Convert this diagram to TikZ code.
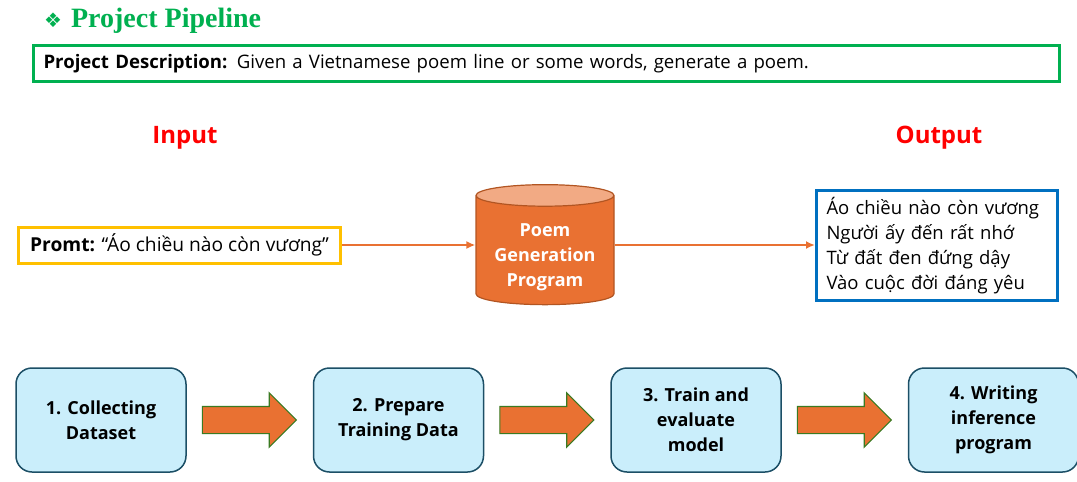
\documentclass[tikz,border=0pt]{standalone}
\usepackage{fontspec}
\setmainfont{Open Sans}
\newfontfamily\titlefont{Liberation Serif}
\newfontfamily\symbolfont{DejaVu Sans}
\usetikzlibrary{shapes, arrows.meta, calc, positioning}
\definecolor{pipegreen}{HTML}{00B050}
\definecolor{pipered}{HTML}{FF0000}
\definecolor{pipeyellow}{HTML}{FFC000}
\definecolor{pipeblue}{HTML}{0070C0}
\definecolor{pipeorange}{HTML}{E97132}
\definecolor{pipeorangelight}{HTML}{F2AA84}
\definecolor{pipeorangedark}{HTML}{B25522}
\definecolor{stepfill}{HTML}{CAEEFB}
\definecolor{stepline}{HTML}{1C4F66}
\definecolor{arrowline}{HTML}{3A7A22}

\tikzset{
    descbox/.style={draw=pipegreen, line width=3pt, minimum height=36pt, text width=1006pt, inner xsep=10pt, align=left, font=\fontsize{18.6}{22}\selectfont},
    iolabel/.style={text=pipered, font=\fontsize{24}{28}\selectfont\bfseries},
    promptbox/.style={draw=pipeyellow, line width=3pt, minimum width=322pt, minimum height=36pt, font=\fontsize{19.2}{23}\selectfont},
    outbox/.style={draw=pipeblue, line width=3pt, minimum width=241pt, minimum height=110pt, text width=221pt, inner xsep=10pt, align=left, font=\fontsize{18.5}{25}\selectfont},
    stepbox/.style={draw=stepline, line width=1.5pt, fill=stepfill, rounded corners=16pt, minimum width=170pt, minimum height=104pt, align=center, font=\fontsize{18}{25}\selectfont\bfseries},
    bigarrow/.style={single arrow, draw=arrowline, line width=1.2pt, fill=pipeorange, minimum height=94pt, inner xsep=0pt, inner ysep=13pt, single arrow head extend=13.5pt},
    flowline/.style={draw=pipeorange, line width=2pt, -{Latex[length=9pt,width=8pt]}}
}

\begin{document}
\begin{tikzpicture}[x=1pt, y=-1pt]
    \useasboundingbox (0,0) rectangle (1077,482);

    % heading and description
    \node[anchor=base west, text=pipegreen, inner sep=0pt] (title) at (44,27.5) {\symbolfont\fontsize{20}{24}\selectfont ❖\hspace{9pt}\titlefont\bfseries\fontsize{28}{32}\selectfont Project Pipeline};
    \node[descbox, anchor=west] (desc) at (32,63.5) {\textbf{Project Description:} Given a Vietnamese poem line or some words, generate a poem.};

    % input / program / output
    \node[iolabel] (inlabel) at (185,138) {Input};
    \node[iolabel] (outlabel) at (939,138) {Output};

    \node[promptbox, anchor=west] (prompt) at (17,245) {\textbf{Promt:} “Áo chiều nào còn vương”};
    \node[cylinder, shape border rotate=90, aspect=0.2, minimum width=138pt, minimum height=120pt, draw=pipeorangedark, line width=1.2pt, cylinder uses custom fill, cylinder body fill=pipeorange, cylinder end fill=pipeorangelight, text=white, align=center, font=\fontsize{18}{25}\selectfont\bfseries] (prog) at (545,252) {\raisebox{-9pt}[0pt][0pt]{\begin{tabular}{@{}c@{}}Poem\\Generation\\Program\end{tabular}}};
    \node[outbox, anchor=north west] (out) at (815,189) {Áo chiều nào còn vương\\Người ấy đến rất nhớ\\Từ đất đen đứng dậy\\Vào cuộc đời đáng yêu};

    \draw[flowline] (prompt.east) -- (prog.west |- prompt.east);
    \draw[flowline] (prog.east |- prompt.east) -- (prompt.east -| out.west);

    % pipeline steps
    \node[stepbox] (s1) at (101,420) {1. Collecting\\Dataset};
    \node[stepbox, right=126pt of s1] (s2) {2. Prepare\\Training Data};
    \node[stepbox, right=126pt of s2] (s3) {3. Train and\\evaluate\\model};
    \node[stepbox, right=126pt of s3] (s4) {4. Writing\\inference\\program};

    \node[bigarrow, right=15pt of s1] (a1) {};
    \node[bigarrow, right=15pt of s2] (a2) {};
    \node[bigarrow, right=15pt of s3] (a3) {};
\end{tikzpicture}
\end{document}
